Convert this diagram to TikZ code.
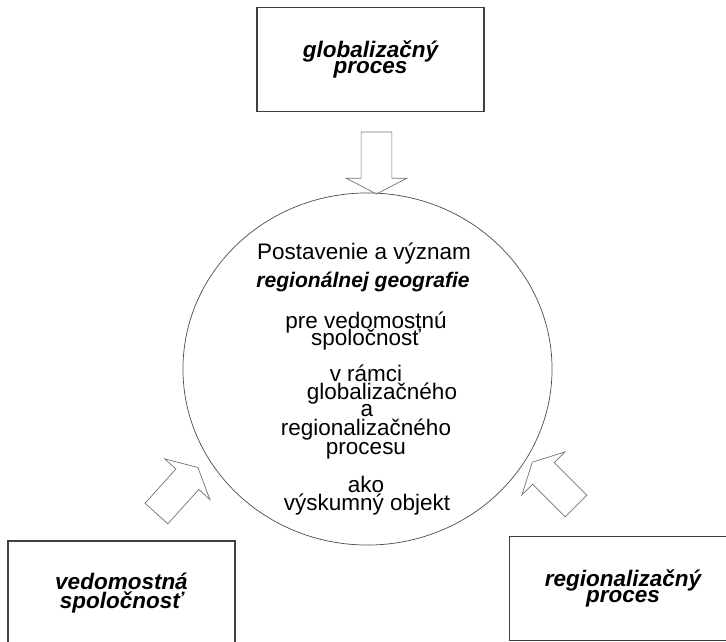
\documentclass[tikz,border=0pt]{standalone}
\usepackage{fontspec}
\setmainfont{Liberation Sans}
\usetikzlibrary{positioning,calc,shapes.geometric,shapes.arrows}

\tikzset{
    procbox/.style={rectangle,draw=black!75,line width=0.8pt,minimum width=5.675cm,minimum height=2.6cm,align=center,font=\fontsize{16}{12}\selectfont\bfseries\itshape},
    blockarrow/.style={single arrow,draw=black!55,line width=0.5pt,inner xsep=0pt,inner ysep=0.375cm,minimum height=1.55cm,single arrow head extend=0.375cm,single arrow tip angle=125},
    circtext/.style={anchor=base,inner sep=0pt,font=\fontsize{16}{16}\selectfont},
}

\begin{document}
\begin{tikzpicture}[x=0.025cm,y=-0.025cm]
        \clip (0,0) rectangle (726,642);

        \node[procbox] (globbox) at (370.5,59.5) {globalizačný\\proces};
        \node[procbox,font=\fontsize{16}{10.5}\selectfont\bfseries\itshape] (vedbox) at (121.5,593) {vedomostná\\spoločnosť};
        \node[procbox] (regbox) at (623,588.5) {regionalizačný\\proces};

        \node[ellipse,draw=black!70,line width=0.5pt,inner sep=0pt,minimum width=9.225cm,minimum height=8.8cm] (circ) at (367.5,369) {};

        \node[blockarrow,rotate=-90] (garrow) at (376.5,159) {};
        \node[blockarrow,rotate=48] (varrow) at (174.5,493.5) {};
        \node[blockarrow,rotate=135] (rarrow) at (557,487) {};

        \node[circtext] (post) at (364,260) {Postavenie a význam};
        \node[circtext,font=\fontsize{15}{15}\selectfont\bfseries\itshape] (regeo) at (363,288) {regionálnej geografie};
        \node[circtext] (pre1) at (366,329) {pre vedomostnú};
        \node[circtext] (pre2) at (366,346) {spoločnosť};
        \node[circtext] (ram1) at (366,382) {v rámci};
        \node[circtext] (ram2) at (382,400) {globalizačného};
        \node[circtext] (ram3) at (367,417) {a};
        \node[circtext] (ram4) at (366,436) {regionalizačného};
        \node[circtext] (ram5) at (366,455) {procesu};
        \node[circtext] (ako1) at (366,493) {ako};
        \node[circtext] (ako2) at (367,511) {výskumný objekt};
\end{tikzpicture}
\end{document}
